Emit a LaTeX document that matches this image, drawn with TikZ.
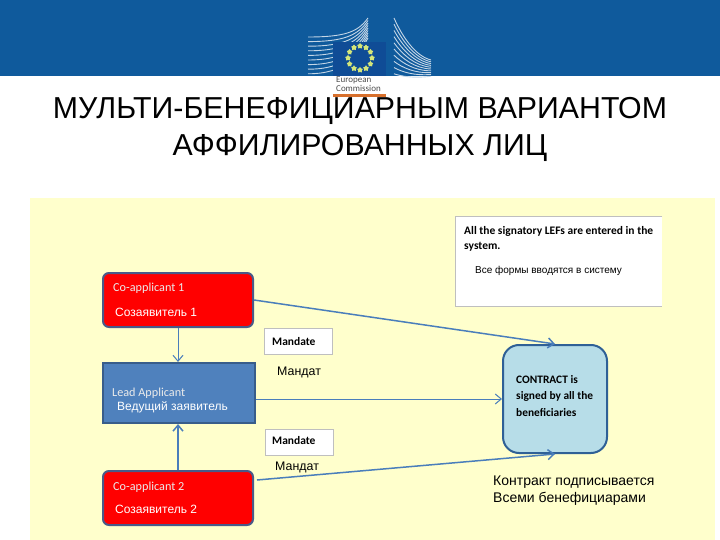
\documentclass[tikz,border=0pt]{standalone}
\usepackage{fontspec}
\setmainfont{Liberation Sans}
\newfontfamily\calibrifont{Carlito}
\usetikzlibrary{
  shapes.geometric,
  arrows.meta
}
\definecolor{ecBlue}{HTML}{0F5A9C}
\definecolor{ecFlag}{HTML}{0F4C96}
\definecolor{ecStar}{HTML}{D4E67A}
\definecolor{ecLine}{HTML}{C4D6E6}
\definecolor{ecOrange}{HTML}{D8702C}
\definecolor{slideYellow}{HTML}{FFFFCC}
\definecolor{appRed}{HTML}{FF0000}
\definecolor{appEdge}{HTML}{4A5A88}
\definecolor{leadBlue}{HTML}{4F81BD}
\definecolor{leadEdge}{HTML}{385D8A}
\definecolor{contractBlue}{HTML}{B7DDE8}
\definecolor{contractEdge}{HTML}{2F6096}
\definecolor{flowBlue}{HTML}{4A7EBB}
\tikzset{
  % Applicant boxes
  appnode/.style={
    rectangle,
    rounded corners=6pt,
    draw=appEdge,
    fill=appRed,
    line width=2pt,
    minimum width=150pt,
    minimum height=54pt
  },
  % Lead applicant
  leadnode/.style={
    rectangle,
    draw=leadEdge,
    fill=leadBlue,
    line width=2pt,
    minimum width=152pt,
    minimum height=60pt
  },
  % Contract box
  contractnode/.style={
    rectangle,
    rounded corners=16pt,
    draw=contractEdge,
    fill=contractBlue,
    line width=2pt,
    minimum width=104pt,
    minimum height=108pt
  },
  % White note boxes
  notenode/.style={
    rectangle,
    draw=black!25,
    fill=white,
    line width=0.7pt
  },
  noteedge/.style={
    draw=black!25,
    line width=0.7pt
  },
  % Texts
  whiteen/.style={font=\calibrifont\fontsize{12.2}{14}\selectfont, text=white!92!black, anchor=west, inner sep=0pt},
  whiteru/.style={font=\fontsize{12}{14}\selectfont, text=white, anchor=west, inner sep=0pt},
  noteen/.style={font=\calibrifont\bfseries\fontsize{11.5}{15}\selectfont, text=black, anchor=west, inner sep=0pt, align=left},
  noteru/.style={font=\fontsize{12.4}{14}\selectfont, text=black, anchor=west, inner sep=0pt},
  % Arrows
  flow/.style={
    -{Straight Barb[length=6pt,width=10pt]},
    line width=1.5pt,
    flowBlue
  }
}
\begin{document}
\begin{tikzpicture}[x=1pt,y=-1pt]
\useasboundingbox (0,0) rectangle (720,540);

%% === Header ===
\fill[ecBlue] (0,0) rectangle (720,76);
\foreach \i in {0,...,8} {
  \draw[ecLine, line width=0.9pt] (308,{37+4.6*\i}) .. controls (345,{37+4.6*\i}) and (358,{32+3*\i}) .. (368,{18+2.5*\i});
}
\foreach \i in {0,...,9} {
  \draw[ecLine, line width=0.9pt] (394,{18+6.2*\i}) .. controls (402,{36+4.5*\i}) and (415,{56+2.5*\i}) .. (431,{60+1.8*\i});
}
\fill[ecFlag] (333,42) rectangle (386,76);
\foreach \a in {0,30,...,330} {
  \node[star, star points=5, fill=ecStar, inner sep=0pt, minimum size=6pt] (star\a) at ({360+12*cos(\a)},{58+12*sin(\a)}) {};
}
\fill[ecOrange] (333,94.5) rectangle (386,97);
\node[font=\calibrifont\fontsize{9}{8.6}\selectfont, text=black!70, align=left, anchor=north west, inner sep=0pt] (ecname) at (336,76.5) {European\\Commission};

%% === Title ===
\node[font=\fontsize{30.3}{37}\selectfont, align=center, inner sep=0pt] (title) at (360,129)
  {МУЛЬТИ-БЕНЕФИЦИАРНЫМ ВАРИАНТОМ\\АФФИЛИРОВАННЫХ ЛИЦ};

%% === Slide background ===
\fill[slideYellow] (30,198) rectangle (715,540);

%% === Applicants ===
\node[appnode] (co1) at (178,300) {};
\node[leadnode] (lead) at (179,393) {};
\node[appnode] (co2) at (178,498) {};
\node[contractnode] (contract) at (555,399) {};

\node[whiteen] (co1en) at (113,288) {Co-applicant 1};
\node[whiteru] (co1ru) at (115,312) {Созаявитель 1};
\node[whiteen] (leaden) at (112,393) {Lead Applicant};
\node[whiteru] (leadru) at (117,407) {Ведущий заявитель};
\node[whiteen] (co2en) at (113,487) {Co-applicant 2};
\node[whiteru] (co2ru) at (115,509) {Созаявитель 2};

%% === Mandate notes ===
\node[notenode, minimum width=68pt, minimum height=26pt] (mandate1) at (298,341) {};
\node[noteen] (mandate1en) at (272,342) {Mandate};
\node[noteru] (mandate1ru) at (277,372) {Мандат};
\node[notenode, minimum width=68pt, minimum height=26pt] (mandate2) at (299,442) {};
\node[noteen] (mandate2en) at (272,441) {Mandate};
\node[noteru] (mandate2ru) at (275,467) {Мандат};

%% === System note ===
\node[notenode, draw=none, minimum width=206pt, minimum height=89pt] (system) at (559,261.5) {};
\draw[noteedge] (system.north east) -- (system.north west) -- (system.south west) -- (system.south east);
\node[noteen, anchor=north west] (systemen) at (464,226) {All the signatory LEFs are entered in the\\system.};
\node[noteru, font=\fontsize{10}{12}\selectfont] (systemru) at (475,271) {Все формы вводятся в систему};

%% === Contract text ===
\node[noteen, anchor=north west, font=\calibrifont\bfseries\fontsize{11.4}{16.5}\selectfont] (contracten) at (516,375) {CONTRACT is\\signed by all the\\beneficiaries};
\node[noteru, anchor=north west, align=left, font=\fontsize{14}{16.5}\selectfont] (contractru) at (493,476) {Контракт подписывается\\Всеми бенефициарами};

%% === Arrows ===
\draw[flow, line width=1pt] (co1.south) -- (co1.south |- lead.north);
\draw[flow] (co2.north) -- (co2.north |- lead.south);
\draw[flow] (co1.east) -- (contract.north);
\draw[flow, line width=1pt] (lead.east |- contract.west) -- (contract.west);
\draw[flow] ([shift={(3,-18)}]co2.east) -- (contract.south);

\end{tikzpicture}
\end{document}
